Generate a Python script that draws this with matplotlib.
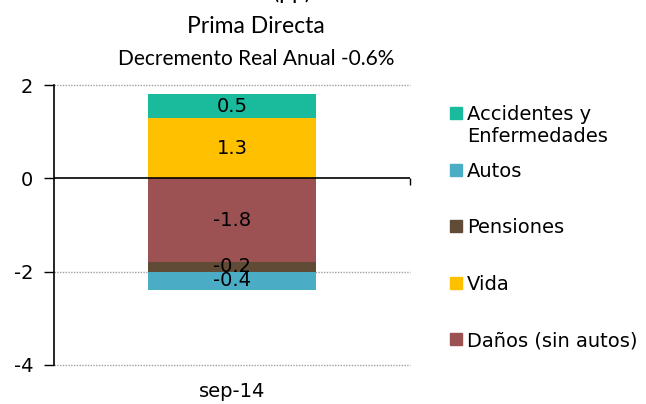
import matplotlib
matplotlib.use("Agg")
import matplotlib.pyplot as plt
from matplotlib.patches import Rectangle

# datos
periodo = ["sep-14"]
ramos = ["Daños (sin autos)", "Pensiones", "Autos", "Vida", "Accidentes y\nEnfermedades"]
valores = [-1.8, -0.2, -0.4, 1.3, 0.5]
colores = ["#9C5252", "#604B36", "#4BACC6", "#FFC000", "#1ABA9C"]
orden_leyenda = ["Accidentes y\nEnfermedades", "Autos", "Pensiones", "Vida", "Daños (sin autos)"]
yticks = [-4, -2, 0, 2]

W, H = 646, 404
fig = plt.figure(figsize=(W/100, H/100), dpi=100)
ax = fig.add_axes([54/W, 1-365/H, (410-54)/W, (365-85)/H])

pos, neg = 0.0, 0.0
for r, v, c in zip(ramos, valores, colores):
    base = pos if v >= 0 else neg
    ax.bar(0, v, bottom=base, width=0.47, color=c, zorder=2)
    ax.text(0, base + v/2, f"{v:.1f}", ha="center", va="center", fontsize=14, color="black", zorder=3)
    if v >= 0:
        pos += v
    else:
        neg += v

ax.set_xlim(-0.5, 0.5)
ax.set_ylim(-4, 2)
ax.set_yticks(yticks)
ax.set_yticklabels([str(t) for t in yticks], fontsize=14)
ax.set_xticks([0])
ax.set_xticklabels(periodo, fontsize=14)
ax.tick_params(axis="x", length=0, pad=12)
ax.tick_params(axis="y", length=7, width=1, pad=8)
for t in [2, -2, -4]:
    ax.axhline(t, color="#A0A0A0", lw=1, ls=(0, (1, 1)), zorder=1, clip_on=False)
ax.axhline(0, color="black", lw=1.2, zorder=4)
ax.vlines(0.5, -0.15, 0, color="black", lw=1, clip_on=False, zorder=4)
for s in ["top", "right", "bottom"]:
    ax.spines[s].set_visible(False)
ax.spines["left"].set_linewidth(1.2)

# titulo
tfont = "Lato"
fig.text(256/W, 1+1/H, "Sector (pp)", ha="center", va="baseline", fontsize=16.5, family=tfont)
fig.text(256/W, 1-33/H, "Prima Directa", ha="center", va="baseline", fontsize=16.5, family=tfont)
fig.text(256/W, 1-65/H, "Decremento Real Anual -0.6%", ha="center", va="baseline", fontsize=15, family=tfont)

# leyenda
for i, lab in enumerate(orden_leyenda):
    yc = 113 + 56.5*i
    c = colores[ramos.index(lab)]
    fig.patches.append(Rectangle((450/W, 1-(yc+6)/H), 12/W, 12/H, color=c, transform=fig.transFigure))
    fig.text(467/W, 1-(yc-7.6)/H, lab, ha="left", va="top", fontsize=14, linespacing=1.2)

fig.savefig("out.png", dpi=100)
